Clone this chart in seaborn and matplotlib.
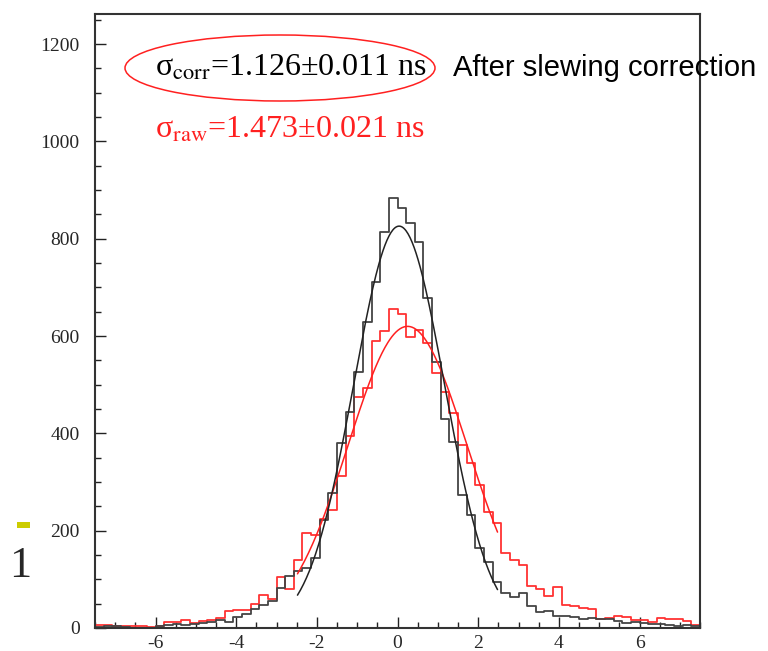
import numpy as np
import pandas as pd
import matplotlib
matplotlib.use('Agg')
import matplotlib.pyplot as plt
import seaborn as sns
from matplotlib.patches import Ellipse, Rectangle
from matplotlib.transforms import Bbox
from matplotlib.ticker import MultipleLocator

# histogram binning: 70 bins from -7.5 to 7.5 ns
n_bins = 70
t_range = (-7.5, 7.5)
edges = np.linspace(t_range[0], t_range[1], n_bins + 1)
centers = 0.5 * (edges[:-1] + edges[1:])

# after slewing correction (black)
corr_counts = [3, 4, 4, 3, 1, 1, 1, 5, 7, 8, 6, 8, 10, 13, 16, 12, 22, 28, 40, 48, 55,
               82, 107, 117, 123, 144, 222, 277, 380, 444, 526, 629, 711, 814, 884,
               863, 832, 794, 678, 547, 430, 383, 273, 232, 164, 136, 95, 72, 64, 72,
               45, 33, 35, 25, 25, 23, 19, 21, 19, 18, 14, 11, 13, 11, 8, 8, 6, 5, 6, 4]

# raw (red)
raw_counts = [6, 6, 5, 4, 4, 5, 2, 5, 12, 12, 16, 10, 15, 16, 21, 35, 36, 36, 49, 68, 60,
              105, 80, 140, 196, 192, 225, 242, 312, 395, 475, 493, 590, 610, 655,
              645, 598, 613, 586, 524, 485, 441, 376, 339, 294, 238, 216, 154, 140, 130,
              86, 81, 66, 84, 47, 45, 42, 40, 18, 21, 25, 23, 16, 16, 13, 21, 18, 18, 14, 6]

# gaussian fit parameters (amplitude, mean, sigma), fit range
corr_fit = (826, 0.04, 1.126)
raw_fit = (620, 0.25, 1.473)
fit_range = (-2.48, 2.48)

df = pd.DataFrame({'t': centers, 'corr': corr_counts, 'raw': raw_counts})

sns.set_style('white')
plt.rcParams['font.family'] = ['Liberation Serif', 'DejaVu Serif']
plt.rcParams['mathtext.fontset'] = 'stix'
plt.rcParams['axes.unicode_minus'] = False

fig = plt.figure(figsize=(7.68, 6.51), dpi=100)
ax = fig.add_axes([95 / 768, 23 / 651, 605 / 768, 614 / 651])

sns.histplot(data=df, x='t', weights='raw', bins=n_bins, binrange=t_range, element='step',
             fill=False, color='#ff3333', linewidth=1.3, ax=ax)
sns.histplot(data=df, x='t', weights='corr', bins=n_bins, binrange=t_range, element='step',
             fill=False, color='#444444', linewidth=1.3, ax=ax)

xf = np.linspace(fit_range[0], fit_range[1], 200)
for (amp, mu, sig), col in [(raw_fit, '#ff2020'), (corr_fit, '#222222')]:
    sns.lineplot(x=xf, y=amp * np.exp(-0.5 * ((xf - mu) / sig) ** 2), color=col,
                 linewidth=1.1, ax=ax)

ax.set_xlim(-7.5, 7.5)
ax.set_ylim(0, 1262)
ax.set_xlabel('')
ax.set_ylabel('')
ax.xaxis.set_major_locator(MultipleLocator(2))
ax.xaxis.set_minor_locator(MultipleLocator(0.5))
ax.yaxis.set_major_locator(MultipleLocator(200))
ax.yaxis.set_minor_locator(MultipleLocator(50))
ax.tick_params(which='both', direction='in', bottom=True, left=True, top=False, right=False,
               labelsize=14, color='#222222', width=1)
ax.tick_params(which='major', length=8)
ax.tick_params(which='minor', length=4)
ax.tick_params(axis='y', pad=11)
ax.tick_params(axis='x', pad=5)
for s in ax.spines.values():
    s.set_color('#333333')
    s.set_linewidth(1.5)

# annotations
fig.text(155 / 768, 1 - 68 / 651, 'σ$_{\\rm corr}$=1.126±0.011 ns',
         fontsize=23, va='center', ha='left', color='black')
fig.text(453 / 768, 1 - 68 / 651, 'After slewing correction', family='Liberation Sans',
         fontsize=21, va='center', ha='left', color='black')
fig.text(155 / 768, 1 - 130 / 651, 'σ$_{\\rm raw}$=1.473±0.021 ns',
         fontsize=23, va='center', ha='left', color='#ff2020')
fig.add_artist(Ellipse((2.80, (651 - 68) / 100), 3.10, 0.66, transform=fig.dpi_scale_trans,
                       fill=False, edgecolor='#ff2020', linewidth=1.1))

# stray slide fragments at left edge
fig.add_artist(Rectangle((0.17, (651 - 528) / 100), 0.13, 0.06, transform=fig.dpi_scale_trans,
                         facecolor='#cccc00', edgecolor='none'))
t = fig.text(9 / 768, 1 - 577 / 651, '12', fontsize=32, va='baseline', ha='left')
t.set_clip_box(Bbox.from_extents(0, 0, 30, 651))
t.set_clip_on(True)

fig.savefig('out.png', dpi=100)
